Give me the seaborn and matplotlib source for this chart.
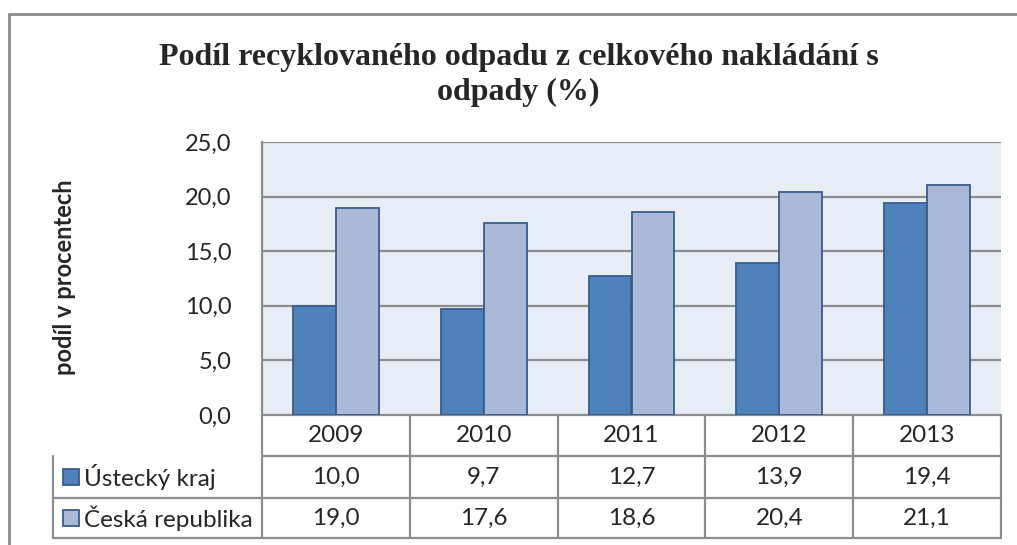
import numpy as np
import pandas as pd
import seaborn as sns
import matplotlib.pyplot as plt
from matplotlib.lines import Line2D
from matplotlib.transforms import blended_transform_factory

years = ["2009", "2010", "2011", "2012", "2013"]
series = ["Ústecký kraj", "Česká republika"]
ustecky = [10.0, 9.7, 12.7, 13.9, 19.4]
cr = [19.0, 17.6, 18.6, 20.4, 21.1]
yticks = [0, 5, 10, 15, 20, 25]

colors = ["#4F81BD", "#AAB9D7"]
edge = "#385D8A"
grid_c = "#8C8C8C"

df = pd.DataFrame({
    "rok": years * 2,
    "serie": [series[0]] * 5 + [series[1]] * 5,
    "hodnota": ustecky + cr,
})

sns.set_style("white")
plt.rcParams["font.family"] = ["Lato", "DejaVu Sans"]

fig = plt.figure(figsize=(10.17, 5.45), dpi=100)
W, H = 1017, 545
ax = fig.add_axes([262 / W, 1 - 415 / H, (1001 - 262) / W, (415 - 142) / H])
ax.set_facecolor("#E8ECF4")

sns.barplot(data=df, x="rok", y="hodnota", hue="serie", palette=colors,
            saturation=1, width=0.58, edgecolor=edge, linewidth=1.3, ax=ax,
            legend=False, zorder=3)

ax.set_ylim(0, 25)
ax.set_xlim(-0.5, 4.5)
ax.set_yticks(yticks)
ax.set_yticklabels([f"{v:.1f}".replace(".", ",") for v in yticks], fontsize=17)
ax.tick_params(axis="y", length=0, pad=22)
ax.set_xticks([])
ax.set_xlabel("")
ax.set_ylabel("")
for v in yticks[1:]:
    ax.axhline(v, color=grid_c, lw=1.6, zorder=1)
for s in ["top", "right", "bottom"]:
    ax.spines[s].set_visible(False)
ax.spines["left"].set_color(grid_c)
ax.spines["left"].set_linewidth(1.6)

# data table under the axis
tr = blended_transform_factory(ax.transData, ax.transAxes)
ah = 415 - 142
rows = [0, -41 / ah, -83 / ah, -123 / ah]
lx = (53 - 262) / (1001 - 262)
kw = dict(color=grid_c, lw=1.6, clip_on=False)
ax.add_line(Line2D([0, 1], [rows[0]] * 2, transform=ax.transAxes, **kw))
ax.add_line(Line2D([0, 1], [rows[1]] * 2, transform=ax.transAxes, **kw))
for r in rows[2:]:
    ax.add_line(Line2D([lx, 1], [r] * 2, transform=ax.transAxes, **kw))
ax.add_line(Line2D([lx, lx], [rows[1], rows[3]], transform=ax.transAxes, **kw))
for i in range(len(years) + 1):
    ax.add_line(Line2D([i - 0.5] * 2, [rows[0], rows[3]], transform=tr, **kw))

for i, yr in enumerate(years):
    ax.text(i, (rows[0] + rows[1]) / 2, yr, transform=tr, ha="center",
            va="center", fontsize=17.5)
for j, vals in enumerate([ustecky, cr]):
    yc = (rows[j + 1] + rows[j + 2]) / 2
    for i, v in enumerate(vals):
        ax.text(i, yc, f"{v:.1f}".replace(".", ","), transform=tr,
                ha="center", va="center", fontsize=17.5)
    sx = (71 - 262) / (1001 - 262)
    ax.plot([sx], [yc], marker="s", markersize=11, color=colors[j],
            markeredgecolor=edge, markeredgewidth=1.3, transform=ax.transAxes,
            clip_on=False)
    ax.text((84 - 262) / (1001 - 262), yc, series[j], transform=ax.transAxes,
            ha="left", va="center", fontsize=17.5)

fig.text(65 / W, 1 - 277 / H, "podíl v procentech", rotation=90, ha="center",
         va="center", fontsize=17, fontweight="bold")

fig.text(0.51, 1 - 75 / H,
         "Podíl recyklovaného odpadu z celkového nakládání s\nodpady (%)",
         ha="center", va="center", fontsize=23, fontweight="bold",
         family=["Liberation Serif", "DejaVu Serif"], linespacing=1.3)

# chart frame (top and left edges)
fig.add_artist(Line2D([9 / W, 1], [1 - 14 / H] * 2, color="#8C8C8C", lw=2))
fig.add_artist(Line2D([9 / W] * 2, [0, 1 - 14 / H], color="#8C8C8C", lw=2))

fig.savefig("out.png", dpi=100)
